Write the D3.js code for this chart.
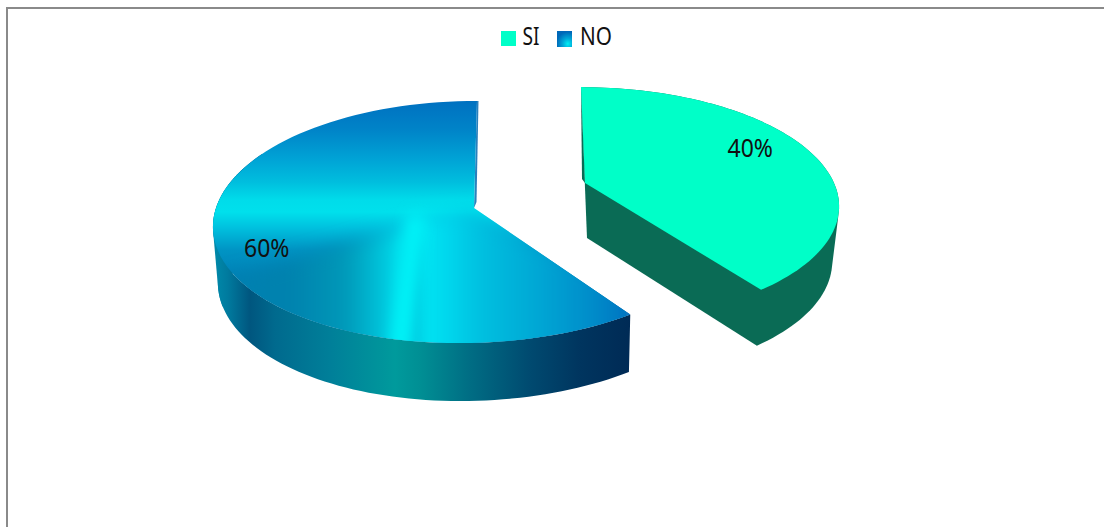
<!DOCTYPE html>
<html><head><meta charset="utf-8">
<script src="https://cdn.jsdelivr.net/npm/d3@7"></script>
<style>html,body{margin:0;padding:0;background:#fff}svg{display:block}text{font-family:"Noto Sans",sans-serif;fill:#111}</style>
</head><body><svg id="c" width="1104" height="527"></svg>
<script>
const categories = ["SI", "NO"];
const values = [40, 60];
const labels = ["40%", "60%"];
const topGreen = "#00ffc8", wallGreen = "#0a6b55";

const svg = d3.select("#c");
const defs = svg.append("defs");

// border
svg.append("path").attr("d","M7,527V8H1104").attr("fill","none").attr("stroke","#8a8a8a").attr("stroke-width",2);

const arcs = d3.pie().sort(null).startAngle(0).endAngle(2*Math.PI)(values);

// per-slice perspective projection of the disc
const view = {
  SI: {cx:585, cy:183, a:249, b:113,   p:.1786, side: 1, s1:5.2, s2:1.2, wallDx:2, wallScale:.965, depth:55, wallW:1},
  NO: {cx:474, cy:208, a:258, b:119.4, p:.1158, side:-1, s1:8.9, s2:5.9, wallDx:1, wallScale:.985, depth:55, wallW:3}
};
function project(v, t, r, z){
  const u = r*Math.sin(t), w = -r*Math.cos(t);
  const den = 1 - v.p*w;
  const shear = v.side*(v.s1*w + v.s2*w*w)*r;
  const s = z ? v.wallScale : 1;
  const x = v.cx + (v.a*u/den + shear)*s + (z ? v.wallDx : 0);
  const y = v.cy + v.b*w/den + (z ? v.depth + v.wallW*w : 0);
  return [x,y];
}
const line = d3.line();
function arcPts(v,a0,a1,z){ const n=90; return d3.range(n+1).map(i=>project(v,a0+(a1-a0)*i/n,1,z)); }
function topPath(v,a0,a1){ return line([project(v,0,0,false),...arcPts(v,a0,a1,false)])+"Z"; }
function wallPath(v,a0,a1){ return line([...arcPts(v,a0,a1,false),...arcPts(v,a1,a0,true)])+"Z"; }
function hullPath(v,a0,a1,withCentre){
  const pts=[...arcPts(v,a0,a1,false),...arcPts(v,a0,a1,true)];
  if(withCentre) pts.push(project(v,0,0,false),project(v,0,0,true));
  return line(d3.polygonHull(pts))+"Z";
}

function linGrad(id,dir,extent,stops){
  const g = defs.append("linearGradient").attr("id",id).attr("gradientUnits","userSpaceOnUse");
  if(dir==="x") g.attr("x1",extent[0]).attr("x2",extent[1]).attr("y1",0).attr("y2",0);
  else g.attr("y1",extent[0]).attr("y2",extent[1]).attr("x1",0).attr("x2",0);
  stops.forEach(s=>g.append("stop").attr("offset",(s[0]-extent[0])/(extent[1]-extent[0])).attr("stop-color",s[1]));
}
linGrad("noV","y",[100,290],[[100,"#0070c0"],[130,"#0084c8"],[160,"#00a4d6"],[182,"#00bede"],[200,"#00dcea"],[212,"#00e0ec"],[228,"#00c0de"],[250,"#0094c4"],[290,"#0078b0"]]);
linGrad("noL","x",[210,420],[[210,"#0080b2"],[290,"#0082ae"],[345,"#0098b8"],[380,"#00c0d8"],[402,"#00e0ee"],[420,"#00ecf4"]]);
linGrad("noR","x",[410,632],[[410,"#00ecf4"],[440,"#00dcf0"],[480,"#00c0e0"],[540,"#00a6d4"],[600,"#0088c8"],[632,"#0870c0"]]);
linGrad("noW","x",[212,632],[[212,"#008cac"],[228,"#007a9e"],[250,"#00567f"],[275,"#006a8e"],[330,"#007f99"],[395,"#009a9c"],[420,"#008f94"],[470,"#006d84"],[530,"#004a70"],[580,"#00355f"],[632,"#002a55"]]);
const blur = (id,sd)=>defs.append("filter").attr("id",id).attr("filterUnits","userSpaceOnUse").attr("x",0).attr("y",0).attr("width",1104).attr("height",527)
  .append("feGaussianBlur").attr("stdDeviation",sd);
blur("soft",9); blur("band",7); blur("edge",.7);

// NO slice
const vN = view.NO, aN = arcs[1];
const t0 = aN.startAngle, t1 = aN.endAngle;
const backLimit = 1.5*Math.PI+.5;          // wall further back is hidden by the top face
svg.append("path").attr("d",wallPath(vN,t0,backLimit)).attr("fill","url(#noW)");
svg.append("path").attr("d",hullPath(vN,1.5*Math.PI-.35,1.5*Math.PI+.35,false)).attr("fill","url(#noW)");
defs.append("clipPath").attr("id","noClip").append("path").attr("d",topPath(vN,t0,t1));
const cN = project(vN,0,0,false), eN = project(vN,t1,1,false);
svg.append("path").attr("d",line([eN,[eN[0]+1.5,eN[1]],[cN[0]+2.5,cN[1]-6],cN])+"Z").attr("fill","#2a80bc").attr("filter","url(#edge)");
const gN = svg.append("g").attr("clip-path","url(#noClip)");
gN.append("rect").attr("x",200).attr("y",95).attr("width",450).attr("height",260).attr("fill","url(#noV)");
gN.append("path").attr("d",line([[414,218],[470,212],[660,300],[660,380],[414,380]])+"Z").attr("fill","url(#noR)").attr("filter","url(#soft)");
gN.append("path").attr("d",line([[416,224],[416,380],[170,380],[170,295]])+"Z").attr("fill","url(#noL)").attr("filter","url(#soft)");
gN.append("path").attr("d",line([[416,216],[398,360]])).attr("stroke","#00f6fa").attr("stroke-width",18).attr("stroke-opacity",.9).attr("fill","none").attr("filter","url(#band)");

// SI slice
const vS = view.SI, aS = arcs[0];
svg.append("path").attr("d",hullPath(vS,aS.startAngle,aS.endAngle,true)).attr("fill",wallGreen);
const cS = project(vS,0,0,false), eS = project(vS,0,1,false);
svg.append("path").attr("d",line([eS,cS,[cS[0]-3,cS[1]-4]])+"Z").attr("fill",wallGreen);
svg.append("path").attr("d",topPath(vS,aS.startAngle,aS.endAngle)).attr("fill",topGreen);

const big = 25;
function txt(x,y,str,len){
  svg.append("text").attr("x",x).attr("y",y).attr("font-size",big).attr("textLength",len).attr("lengthAdjust","spacingAndGlyphs").text(str);
}
txt(727.5,157,labels[0],45.5);
txt(244,257,labels[1],45.5);

// legend
const rg = defs.append("radialGradient").attr("id","lg1").attr("cx",.72).attr("cy",.8).attr("r",.75);
rg.append("stop").attr("offset",0).attr("stop-color","#00f0f4");
rg.append("stop").attr("offset",.45).attr("stop-color","#00a8d8");
rg.append("stop").attr("offset",1).attr("stop-color","#0068b8");
svg.append("rect").attr("x",501).attr("y",31).attr("width",15).attr("height",15).attr("fill",topGreen);
svg.append("rect").attr("x",557).attr("y",31).attr("width",15).attr("height",16).attr("fill","url(#lg1)");
txt(522.5,45,categories[0],17);
txt(580,45,categories[1],32);
</script></body></html>
